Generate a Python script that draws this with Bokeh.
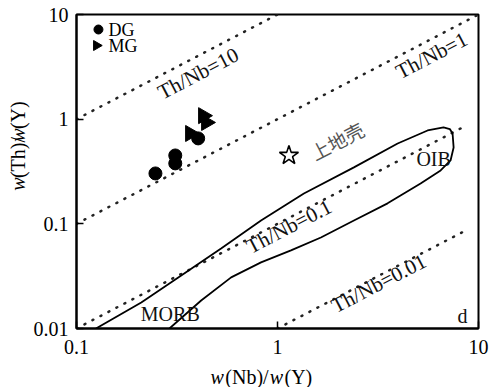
import math

from bokeh.embed import file_html
from bokeh.layouts import column, row
from bokeh.models import FixedTicker, Label, Range1d
from bokeh.plotting import figure
from bokeh.resources import INLINE

# ---- axis ticks -------------------------------------------------------------
x_ticks = [0.1, 1, 10]
x_tick_labels = ["0.1", "1", "10"]
y_ticks = [0.01, 0.1, 1, 10]
y_tick_labels = ["0.01", "0.1", "1", "10"]

# ---- samples: w(Nb)/w(Y) and w(Th)/w(Y) -------------------------------------
dg_nb_y = [0.247, 0.310, 0.310, 0.403]
dg_th_y = [0.303, 0.450, 0.378, 0.655]
mg_nb_y = [0.368, 0.427, 0.442]
mg_th_y = [0.73, 1.08, 0.93]
series_names = ["DG", "MG"]

# upper continental crust
crust_nb_y = [1.14]
crust_th_y = [0.45]
crust_label = "上地壳"

# ---- constant Th/Nb reference lines ---------------------------------------
ratio_values = [10, 1, 0.1, 0.01]
ratio_labels = ["Th/Nb=10", "Th/Nb=1", "Th/Nb=0.1", "Th/Nb=0.01"]
ratio_nb_y_start = [0.1, 0.1, 0.1, 1.0]
ratio_nb_y_end = [1.0, 9.8, 8.6, 8.6]

# ---- MORB-OIB mantle array outline ----------------------------------------
array_nb_y = [0.125, 0.210, 0.332, 0.524, 0.828, 1.353, 2.40, 3.96, 5.58,
              6.70, 7.20, 7.43, 7.52, 7.26, 6.48, 5.15, 3.53, 2.40, 1.644,
              1.167, 0.828, 0.588, 0.417, 0.29]
array_th_y = [0.010, 0.01775, 0.0321, 0.0582, 0.1077, 0.195, 0.346, 0.586,
              0.780, 0.833, 0.805, 0.730, 0.537, 0.403, 0.324, 0.243, 0.157,
              0.1077, 0.0741, 0.0557, 0.0428, 0.0308, 0.0185, 0.010]

x_title_middle = "Nb"
y_title_middle = "Th"

SERIF = "Liberation Serif"
FS = "20px"
INK = "#111111"

# ---- page geometry ---------------------------------------------------------
PAGE_W, PAGE_H = 498, 387
YT_W = 30                 # strip holding the vertical axis title
XT_H = 22                 # strip holding the horizontal axis title
MAIN_W, MAIN_H = PAGE_W - YT_W, PAGE_H - XT_H
FRAME_L, FRAME_R, FRAME_T = 75, 478, 14      # page pixels
FRAME_B = 328
frame_w = FRAME_R - FRAME_L
frame_h = FRAME_B - FRAME_T
px_per_dec_x = frame_w / 2.0
px_per_dec_y = frame_h / 3.0
slope_angle = math.atan2(px_per_dec_y, px_per_dec_x)  # screen angle of a 1:1 line


def fx(px):
    """page pixel column -> w(Nb)/w(Y) position"""
    return 10 ** ((px - FRAME_L) / px_per_dec_x - 1)


def fy(py):
    """page pixel row -> w(Th)/w(Y) position"""
    return 10 ** (1 - (py - FRAME_T) / px_per_dec_y)


p = figure(width=MAIN_W, height=MAIN_H, x_axis_type="log", y_axis_type="log",
           x_range=Range1d(0.1, 10), y_range=Range1d(0.01, 10),
           output_backend="svg", toolbar_location=None,
           min_border_left=FRAME_L - YT_W, min_border_right=PAGE_W - FRAME_R,
           min_border_top=FRAME_T, min_border_bottom=MAIN_H - FRAME_B)
p.background_fill_color = "white"
p.border_fill_color = "white"
p.outline_line_color = "black"
p.outline_line_width = 2
p.xgrid.visible = False
p.ygrid.visible = False

for ax, ticks, labels, standoff in ((p.xaxis, x_ticks, x_tick_labels, 11),
                                    (p.yaxis, y_ticks, y_tick_labels, 8)):
    ax.ticker = FixedTicker(ticks=ticks)
    ax.major_label_overrides = {float(t): l for t, l in zip(ticks, labels)}
    ax.major_label_text_font = SERIF
    ax.major_label_text_font_size = FS
    ax.major_label_text_color = "black"
    ax.major_label_standoff = standoff
    ax.axis_line_width = 2
    ax.axis_line_color = "black"
    ax.major_tick_in = 7
    ax.major_tick_out = 0
    ax.major_tick_line_width = 1.5
    ax.minor_tick_in = 0
    ax.minor_tick_out = 0

# Th/Nb reference lines (dotted)
for k, x0, x1 in zip(ratio_values, ratio_nb_y_start, ratio_nb_y_end):
    p.line([x0, x1], [k * x0, k * x1], line_color="#222222", line_width=2.5,
           line_dash="1 8", line_cap="round")

# mantle array outline
p.line(array_nb_y, array_th_y, line_color="black", line_width=1.8)

# samples
p.scatter(dg_nb_y, dg_th_y, marker="circle", size=13,
          fill_color="black", line_color="black")
p.scatter(mg_nb_y, mg_th_y, marker="triangle", size=16, angle=-math.pi / 2,
          fill_color="black", line_color="black")
p.scatter(crust_nb_y, crust_th_y, marker="star", size=20,
          fill_color="white", line_color="black", line_width=1.6)

# rotated ratio labels
ratio_label_px = [(197, 73), (431, 55), (288, 226), (378, 283)]
for text, (lx, ly) in zip(ratio_labels, ratio_label_px):
    p.add_layout(Label(x=fx(lx), y=fy(ly), text=text, angle=slope_angle,
                       text_align="center", text_baseline="middle",
                       text_font=SERIF, text_font_size="21px", text_color=INK))

p.add_layout(Label(x=fx(336), y=fy(140), text=crust_label, angle=slope_angle,
                   text_align="center", text_baseline="middle",
                   text_font="Noto Sans CJK SC", text_font_size="19px",
                   text_color="#555555"))

for text, lx, ly in (("OIB", 433, 158), ("MORB", 169, 313), ("d", 462, 315)):
    p.add_layout(Label(x=fx(lx), y=fy(ly), text=text, text_align="center",
                       text_baseline="middle", text_font=SERIF,
                       text_font_size=FS, text_color=INK))

# legend keys, top-left corner of the frame
p.scatter([fx(97)], [fy(29)], marker="circle", size=9,
          fill_color="black", line_color="black")
p.scatter([fx(95)], [fy(45)], marker="triangle", size=10, angle=-math.pi / 2,
          fill_color="black", line_color="black")
for name, ly in zip(series_names, (29, 45)):
    p.add_layout(Label(x=fx(107), y=fy(ly), text=name, text_align="left",
                       text_baseline="middle", text_font=SERIF,
                       text_font_size="18px", text_color="black"))


# ---- axis titles with italic "w" --------------------------------------------
def title_parts(middle):
    return [("w", "italic"), ("(" + middle + ")/", "normal"),
            ("w", "italic"), ("(Y)", "normal")]


TITLE_PX = 20
ADV = {"w": 0.667, "(": 0.333, ")": 0.333, "/": 0.278, "T": 0.611, "h": 0.5,
       "N": 0.722, "b": 0.5, "Y": 0.722}


def advance(s):
    gap = 1.5 if s == "w" else 1.0
    return sum(ADV[c] for c in s) * TITLE_PX + gap


def strip(width, height):
    f = figure(width=width, height=height, x_range=Range1d(0, width),
               y_range=Range1d(0, height), output_backend="svg",
               toolbar_location=None, min_border=0)
    f.axis.visible = False
    f.grid.visible = False
    f.outline_line_color = None
    f.background_fill_color = "white"
    f.border_fill_color = "white"
    return f


# vertical title strip (left of the chart), text reads upward
yt = strip(YT_W, MAIN_H)
cum = 0.0
for s, style in title_parts(y_title_middle):
    yt.add_layout(Label(x=17.5, y=(MAIN_H - 205) + cum, text=s, angle=math.pi / 2,
                        text_align="left", text_baseline="middle",
                        text_font=SERIF, text_font_size=f"{TITLE_PX}px",
                        text_font_style=style, text_color="black"))
    cum += advance(s)

# horizontal title strip (below the chart)
xt = strip(PAGE_W, XT_H)
cum = 0.0
for s, style in title_parts(x_title_middle):
    xt.add_layout(Label(x=210 + cum, y=XT_H / 2.0, text=s,
                        text_align="left", text_baseline="middle",
                        text_font=SERIF, text_font_size=f"{TITLE_PX}px",
                        text_font_style=style, text_color="black"))
    cum += advance(s)

page = column(row(yt, p, spacing=0), xt, spacing=0)
open("out.html", "w").write(file_html(page, INLINE))
